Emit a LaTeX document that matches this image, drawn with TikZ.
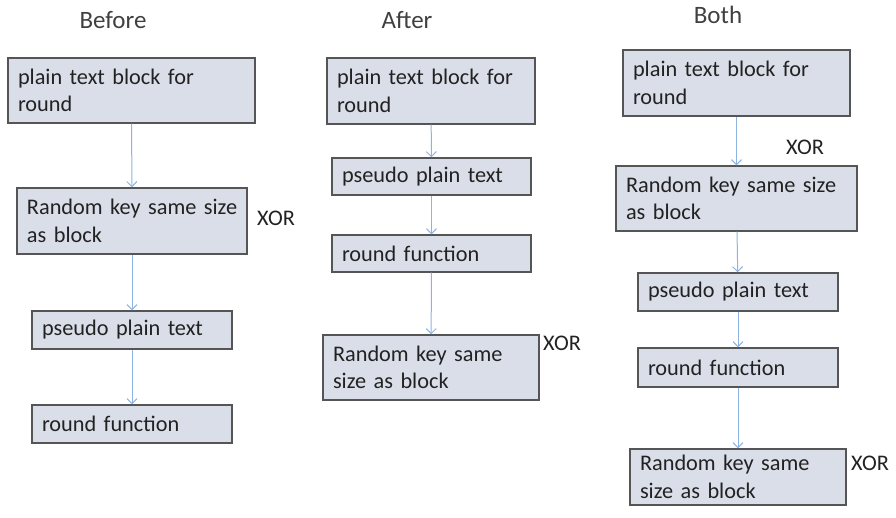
\documentclass[tikz,border=0pt]{standalone}
\usepackage{fontspec}
\setmainfont{Carlito}
\usetikzlibrary{arrows.meta}
\definecolor{boxfill}{HTML}{D9DEE8}
\definecolor{boxline}{HTML}{555555}
\definecolor{arrcol}{HTML}{8DB3E0}
\definecolor{txt}{HTML}{222222}
\definecolor{ttl}{HTML}{404040}
\tikzset{
  blk/.style={draw=boxline, fill=boxfill, line width=1.4pt, inner xsep=10pt, inner ysep=0pt,
    align=left, text=txt, font=\fontsize{22.3}{27.5}\selectfont},
  arr/.style={draw=arrcol, line width=1pt, -{Straight Barb[length=5pt,width=10pt]}},
  lbl/.style={text=txt, font=\fontsize{22.3}{27.5}\selectfont, inner sep=0pt},
  ttlst/.style={text=ttl, font=\fontsize{25}{30}\selectfont, inner sep=0pt}
}
\begin{document}
\begin{tikzpicture}[x=1pt,y=-1pt]
\useasboundingbox (0,0) rectangle (896,517);
% Before
\node[ttlst] (t1) at (113,20) {Before};
\node[blk, minimum width=247pt, minimum height=65pt, text width=227pt] (a1) at (131.5,90.5) {\mbox{plain text block for}\\round};
\node[blk, minimum width=230pt, minimum height=66pt, text width=210pt] (a2) at (132,221) {\mbox{Random key same size}\\as block};
\node[lbl] (ax) at (276,218) {XOR};
\node[blk, minimum width=200pt, minimum height=38pt, text width=180pt] (a3) at (132,330) {pseudo plain text};
\node[blk, minimum width=200pt, minimum height=38pt, text width=180pt] (a4) at (132,424) {round function};
\draw[arr] (a1) -- (a2);
\draw[arr] (a2) -- (a3);
\draw[arr] (a3) -- (a4);
% After
\node[ttlst] (t2) at (407,20) {After};
\node[blk, minimum width=208pt, minimum height=66pt, text width=188pt] (b1) at (431,91) {\mbox{plain text block for}\\round};
\node[blk, minimum width=199pt, minimum height=37pt, text width=179pt] (b2) at (431.5,176.5) {pseudo plain text};
\node[blk, minimum width=199pt, minimum height=37pt, text width=179pt] (b3) at (431.5,253.5) {round function};
\node[blk, minimum width=216pt, minimum height=65pt, text width=196pt] (b4) at (431,367.5) {\mbox{Random key same}\\size as block};
\node[lbl] (bx) at (562,343) {XOR};
\draw[arr] (b1) -- (b2);
\draw[arr] (b2) -- (b3);
\draw[arr] (b3) -- (b4);
% Both
\node[ttlst] (t3) at (718,15) {Both};
\node[blk, minimum width=227pt, minimum height=66pt, text width=207pt] (c1) at (736.5,83) {\mbox{plain text block for}\\round};
\node[lbl] (cx) at (805,147) {XOR};
\node[blk, minimum width=241pt, minimum height=65pt, text width=221pt] (c2) at (736.5,198.5) {\mbox{Random key same size}\\as block};
\node[blk, minimum width=200pt, minimum height=38pt, text width=180pt] (c3) at (738,292) {pseudo plain text};
\node[blk, minimum width=200pt, minimum height=39pt, text width=180pt] (c4) at (738,367.5) {round function};
\node[blk, minimum width=216pt, minimum height=56pt, text width=196pt] (c5) at (738,477) {\mbox{Random key same}\\size as block};
\node[lbl] (cx2) at (870,463) {XOR};
\draw[arr] (c1) -- (c2);
\draw[arr] (c2) -- (c3);
\draw[arr] (c3) -- (c4);
\draw[arr] (c4) -- (c5);
\end{tikzpicture}
\end{document}
